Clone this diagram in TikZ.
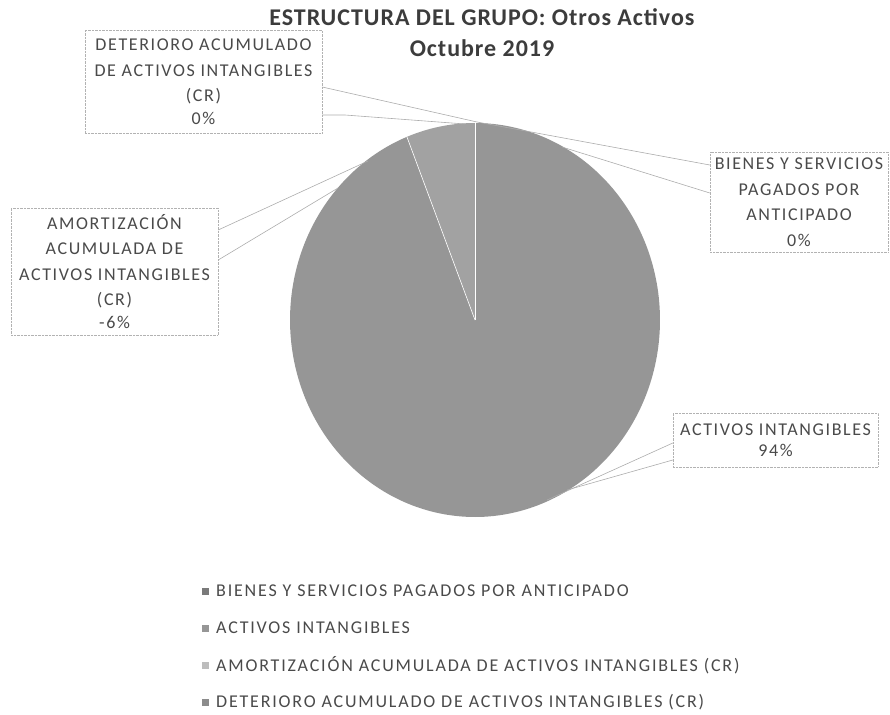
\documentclass[tikz,border=0pt]{standalone}
\usepackage{fontspec}
\setmainfont{Carlito}
\newfontfamily\lblfont[LetterSpace=9]{Carlito}
\newfontfamily\legfont[LetterSpace=10]{Carlito}
\newfontfamily\ttlfont[LetterSpace=4]{Carlito}
\definecolor{pieA}{HTML}{969696}
\definecolor{pieB}{HTML}{A2A2A2}
\definecolor{pieC}{HTML}{7A7A7A}
\definecolor{pieD}{HTML}{8C8C8C}
\definecolor{mkB}{HTML}{BDBDBD}
\definecolor{txt}{HTML}{4A4A4A}
\definecolor{ttl}{HTML}{3C3C3C}
\begin{document}
\begin{tikzpicture}[x=1pt,y=-1pt,
  lbl/.style={draw=gray!60, densely dotted, fill=white, text=txt, font=\lblfont\fontsize{18}{25.5}\selectfont, align=center, inner sep=0pt},
  leader/.style={draw=gray!65, line width=0.6pt},
  legtxt/.style={anchor=west, text=txt, font=\legfont\fontsize{18}{20}\selectfont, inner sep=0pt},
  legmark/.style={minimum size=7pt, inner sep=0pt},
  ttlstyle/.style={text=ttl, font=\ttlfont\fontsize{24}{28}\selectfont\bfseries, inner sep=0pt}]
\useasboundingbox (0,0) rectangle (890,714);
% title
\node[ttlstyle] (t1) at (482,17) {ESTRUCTURA DEL GRUPO: Otros Activos};
\node[ttlstyle] (t2) at (482,48) {Octubre 2019};
% pie
\fill[pieA] plot[domain=111.6:450, samples=240] ({475+185*cos(\x)},{320-197*sin(\x)}) -- (475,320) -- cycle;
\fill[pieB] plot[domain=90:111.6, samples=30] ({475+185*cos(\x)},{320-197*sin(\x)}) -- (475,320) -- cycle;
\coordinate (pc) at (475,320);
\coordinate (ptop) at (475,123);
\coordinate (pam) at ({475+185*cos(111.6)},{320-197*sin(111.6)});
\draw[white, line width=0.6pt] (pc) -- (ptop);
\draw[white, line width=0.6pt] (pc) -- (pam);
% labels
\node[lbl, minimum width=237pt, minimum height=103pt] (det) at (203.5,81.5)
  {DETERIORO ACUMULADO\\DE ACTIVOS INTANGIBLES\\(CR)\\[-3pt]0\%};
\node[lbl, minimum width=207pt, minimum height=127pt] (amo) at (114.5,271.5)
  {AMORTIZACIÓN\\ACUMULADA DE\\ACTIVOS INTANGIBLES\\(CR)\\[-3pt]-6\%};
\node[lbl, minimum width=178pt, minimum height=100pt] (bie) at (799,202)
  {BIENES Y SERVICIOS\\PAGADOS POR\\ANTICIPADO\\0\%};
\node[lbl, minimum width=205pt, minimum height=54pt] (act) at (775.5,440)
  {ACTIVOS INTANGIBLES\\[-4pt]94\%};
% leader anchors on pie
\coordinate (e1) at (477,122);
\coordinate (e2) at (465,124);
\coordinate (e3) at (562,147);
\coordinate (e4) at (368,161);
\coordinate (e5) at (338,188);
\coordinate (e6) at (547,500);
\coordinate (e7) at (567,490);
\coordinate (k1) at (345,115);
% leaders
\draw[leader] (det.east |- 0,87) -- (e1);
\draw[leader] (det.east |- 0,115) -- (k1) -- (e2);
\draw[leader] (e1) -- (bie.west |- 0,165);
\draw[leader] (e3) -- (bie.west |- 0,193);
\draw[leader] (amo.east |- 0,230) -- (e4);
\draw[leader] (amo.east |- 0,260) -- (e5);
\draw[leader] (e6) -- (act.west |- 0,443);
\draw[leader] (e7) -- (act.west |- 0,460);
% legend
\node[legmark, fill=pieC] (m1) at (205,591) {};
\node[legtxt] (l1) at (216,591) {BIENES Y SERVICIOS PAGADOS POR ANTICIPADO};
\node[legmark, fill=pieA] (m2) at (205,628) {};
\node[legtxt] (l2) at (216,628) {ACTIVOS INTANGIBLES};
\node[legmark, fill=mkB] (m3) at (205,665) {};
\node[legtxt] (l3) at (216,665) {AMORTIZACIÓN ACUMULADA DE ACTIVOS INTANGIBLES (CR)};
\node[legmark, fill=pieD] (m4) at (205,702) {};
\node[legtxt] (l4) at (216,702) {DETERIORO ACUMULADO DE ACTIVOS INTANGIBLES (CR)};
\end{tikzpicture}
\end{document}
